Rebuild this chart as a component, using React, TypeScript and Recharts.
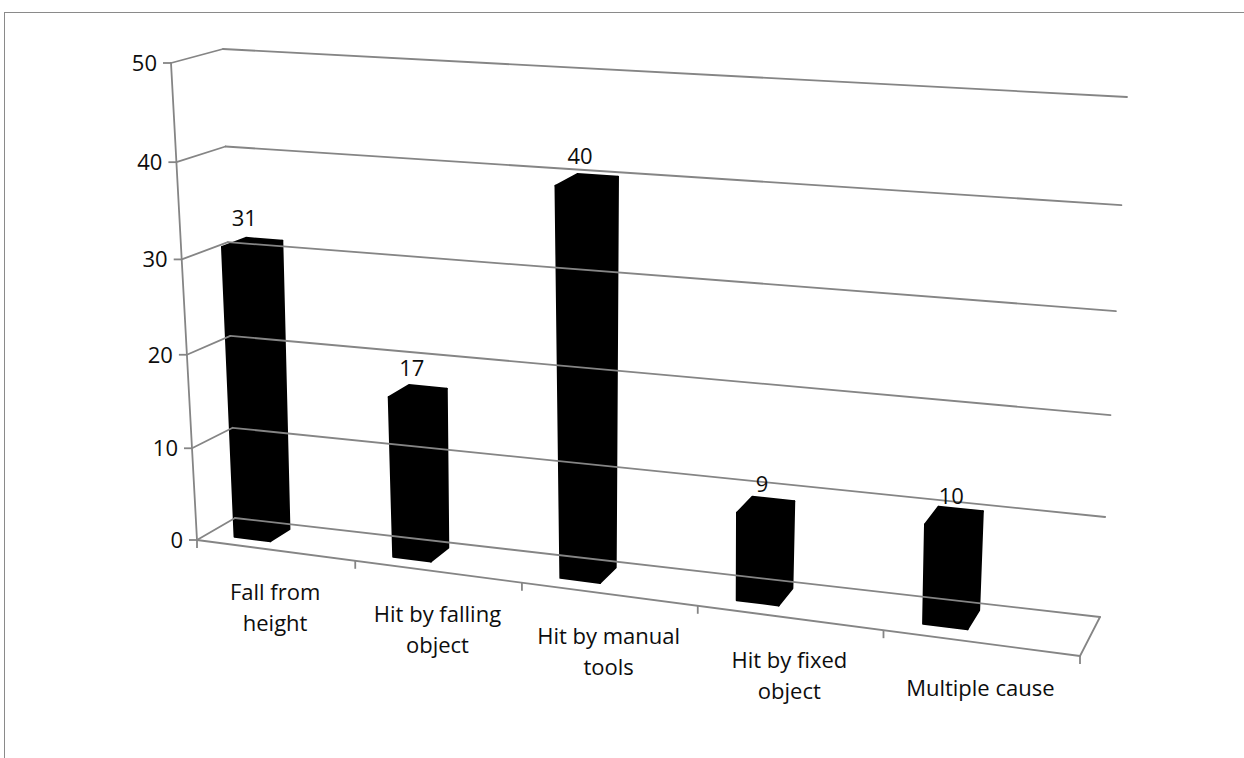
import React from "react";
import { BarChart, Bar, XAxis, YAxis, LabelList } from "recharts";

// ---------- data ----------
const CATEGORIES = [
  "Fall from height",
  "Hit by falling object",
  "Hit by manual tools",
  "Hit by fixed object",
  "Multiple cause",
];
const COUNTS = [31, 17, 40, 9, 10];
const LABEL_LINES = [
  ["Fall from", "height"],
  ["Hit by falling", "object"],
  ["Hit by manual", "tools"],
  ["Hit by fixed", "object"],
  ["Multiple cause"],
];
const Y_TICKS = [0, 10, 20, 30, 40, 50];
const Y_MAX = 50;

const rows = CATEGORIES.map((c, i) => ({ cause: c, count: COUNTS[i] }));

// ---------- layout ----------
const W = 1244;
const H = 758;
const MARGIN = { top: 20, right: 20, bottom: 20, left: 20 };
const Y_AXIS_W = 60;
const X_AXIS_H = 40;
const PL = MARGIN.left + Y_AXIS_W;
const PT = MARGIN.top;
const PW = W - PL - MARGIN.right;
const PH = H - PT - MARGIN.bottom - X_AXIS_H;

const FONT = "'Open Sans', 'Noto Sans', sans-serif";
const FS = 22;
const TEXT = "#0d0d0d";
const GRID = "#858585";
const GRID_W = 1.8;

// 3D frame (front plane and back plane of the chart box)
const FRONT = { p00: [197, 540], p10: [1080, 656], p01: [171, 63], p11: [1093, 128] };
const BACK = { p00: [235, 518], p10: [1100, 617], p01: [223, 49], p11: [1127, 97] };
const WX = 1.145;
const WY = 1.05;
const BAR_X0 = -0.066; // relative to category centre (model units)
const BAR_X1 = -0.02;
const BAR_Z0 = 0.3;
const BAR_Z1 = 0.82;

const persp = (t: number, w: number) => t / (t + w * (1 - t));

function proj(X: number, Y: number, Z: number): [number, number] {
  const u = persp(X, WX);
  const v = persp(Y, WY);
  const bil = (P: any, k: number) =>
    (1 - u) * (1 - v) * P.p00[k] + u * (1 - v) * P.p10[k] + (1 - u) * v * P.p01[k] + u * v * P.p11[k];
  const fx = bil(FRONT, 0), fy = bil(FRONT, 1);
  const bx = bil(BACK, 0), by = bil(BACK, 1);
  return [fx + Z * (bx - fx), fy + Z * (by - fy)];
}

const pts = (arr: [number, number][]) => arr.map((p) => `${p[0].toFixed(2)},${p[1].toFixed(2)}`).join(" ");

const Seg = ({ a, b }: { a: [number, number]; b: [number, number] }) => (
  <line x1={a[0]} y1={a[1]} x2={b[0]} y2={b[1]} stroke={GRID} strokeWidth={GRID_W} strokeLinecap="round" />
);

// value-axis tick: label + tick + wall gridlines, projected
const YTick = (props: any) => {
  const { y, payload } = props;
  const Y = (PT + PH - y) / PH;
  const f = proj(0, Y, 0);
  const bl = proj(0, Y, 1);
  const br = proj(1, Y, 1);
  const extra: any[] = [];
  if (payload.value === 0) {
    const f0 = proj(0, 0, 0);
    const f1 = proj(1, 0, 0);
    const b1 = proj(1, 0, 1);
    const top = proj(0, 1, 0);
    extra.push(<Seg key="fe" a={f0} b={f1} />);
    extra.push(<Seg key="re" a={f1} b={b1} />);
    extra.push(<Seg key="ax" a={f0} b={top} />);
  }
  return (
    <g>
      <Seg a={f} b={bl} />
      <Seg a={bl} b={br} />
      <line x1={f[0] - 8} y1={f[1]} x2={f[0]} y2={f[1]} stroke={GRID} strokeWidth={GRID_W} />
      {extra}
      <text x={f[0] - 14} y={f[1] + 8} textAnchor="end" fontFamily={FONT} fontSize={FS} fill={TEXT}>
        {payload.value}
      </text>
    </g>
  );
};

// category-axis tick: label + boundary ticks, projected on the front floor edge
const XTick = (props: any) => {
  const { x, payload } = props;
  const n = CATEGORIES.length;
  const idx = CATEGORIES.indexOf(payload.value);
  const Xc = (x - PL) / PW;
  const half = 0.5 / n;
  const e = proj(Xc, 0, 0);
  const bLeft = proj(Xc - half, 0, 0);
  const bRight = proj(Xc + half, 0, 0);
  const lines = LABEL_LINES[idx] || [payload.value];
  return (
    <g>
      <line x1={bLeft[0]} y1={bLeft[1]} x2={bLeft[0]} y2={bLeft[1] + 8} stroke={GRID} strokeWidth={GRID_W} />
      {idx === n - 1 && (
        <line x1={bRight[0]} y1={bRight[1]} x2={bRight[0]} y2={bRight[1] + 8} stroke={GRID} strokeWidth={GRID_W} />
      )}
      <text textAnchor="middle" fontFamily={FONT} fontSize={FS} fill={TEXT}>
        {lines.map((l, i) => (
          <tspan key={i} x={e[0]} y={e[1] + 50 + (lines.length === 1 ? 3 : 0) + i * 31}>
            {l}
          </tspan>
        ))}
      </text>
    </g>
  );
};

const Box3D = (props: any) => {
  const { x, width, height } = props;
  if (height == null || isNaN(height)) return null;
  const Xc = (x + width / 2 - PL) / PW;
  const X0 = Xc + BAR_X0;
  const X1 = Xc + BAR_X1;
  const Y1 = height / PH;
  const front = [proj(X0, 0, BAR_Z0), proj(X1, 0, BAR_Z0), proj(X1, Y1, BAR_Z0), proj(X0, Y1, BAR_Z0)];
  const top = [proj(X0, Y1, BAR_Z0), proj(X1, Y1, BAR_Z0), proj(X1, Y1, BAR_Z1), proj(X0, Y1, BAR_Z1)];
  const side = [proj(X1, 0, BAR_Z0), proj(X1, 0, BAR_Z1), proj(X1, Y1, BAR_Z1), proj(X1, Y1, BAR_Z0)];
  return (
    <g>
      {[front, top, side].map((f, i) => (
        <polygon key={i} points={pts(f as any)} fill="#000" stroke="#000" strokeWidth={2} strokeLinejoin="round" />
      ))}
    </g>
  );
};

const ValueLabel = (props: any) => {
  const { x, width, height, value } = props;
  const Xc = (x + width / 2 - PL) / PW;
  const Y1 = height / PH;
  const p = proj(Xc + (BAR_X0 + BAR_X1) / 2, Y1, BAR_Z0);
  return (
    <text x={p[0] + 4} y={p[1] - 23} textAnchor="middle" fontFamily={FONT} fontSize={FS} fill={TEXT}>
      {value}
    </text>
  );
};

export default function App() {
  return (
    <div style={{ position: "absolute", left: 0, top: 0, width: W, height: H, background: "#fff", overflow: "hidden" }}>
      <div
        style={{
          position: "absolute",
          left: 4,
          top: 12,
          width: W + 20,
          height: H + 20,
          borderTop: "1px solid #8a8a8a",
          borderLeft: "1px solid #8a8a8a",
        }}
      />
      <div style={{ position: "absolute", left: 0, top: 0 }}>
        <BarChart width={W} height={H} data={rows} margin={MARGIN}>
          <XAxis
            dataKey="cause"
            height={X_AXIS_H}
            axisLine={false}
            tickLine={false}
            interval={0}
            tick={<XTick />}
          />
          <YAxis
            domain={[0, Y_MAX]}
            ticks={Y_TICKS}
            width={Y_AXIS_W}
            axisLine={false}
            tickLine={false}
            interval={0}
            tick={<YTick />}
          />
          <Bar dataKey="count" isAnimationActive={false} shape={<Box3D />}>
            <LabelList dataKey="count" content={<ValueLabel />} />
          </Bar>
        </BarChart>
      </div>
    </div>
  );
}
